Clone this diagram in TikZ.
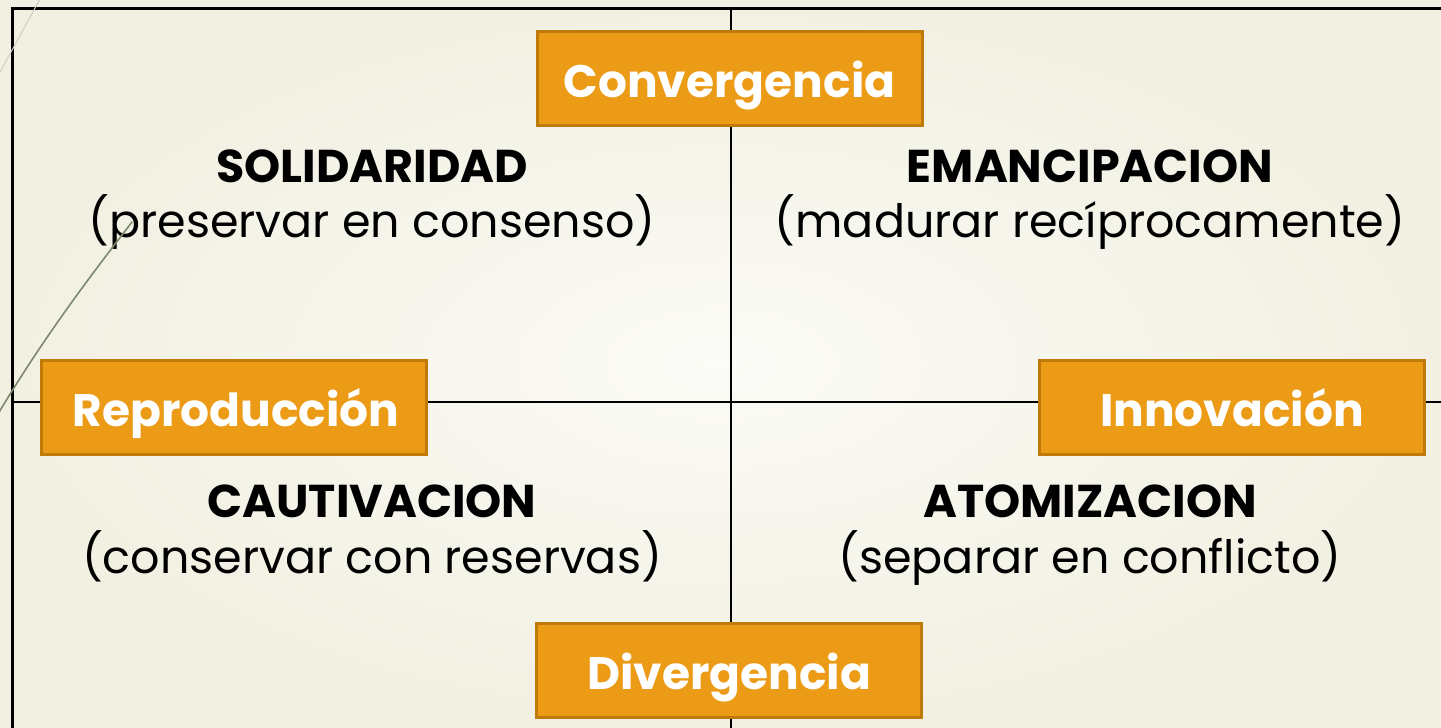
\documentclass[tikz,border=0pt]{standalone}
\usepackage{fontspec}
\setmainfont{Poppins}
\definecolor{bgin}{HTML}{FBFBF7}
\definecolor{bgout}{HTML}{F2F0E2}
\definecolor{boxfill}{HTML}{EC9B17}
\definecolor{boxline}{HTML}{C07A0A}
\definecolor{wisp}{HTML}{7C8A6C}
\definecolor{wispfaint}{HTML}{CFCFC2}
\tikzset{
  axisbox/.style={draw=boxline, line width=3pt, fill=boxfill, minimum width=385pt, minimum height=94pt, inner sep=0pt},
  boxlabel/.style={anchor=base, text=white, font=\fontsize{45.5}{52}\selectfont\bfseries, inner sep=0pt},
  qtitle/.style={anchor=base, font=\fontsize{46}{52}\selectfont\bfseries, inner sep=0pt},
  qsub/.style={anchor=base, font=\fontsize{46}{52}\selectfont, inner sep=0pt},
  frame/.style={draw=black, line width=3pt},
  divider/.style={draw=black, line width=2pt}
}
\begin{document}
\begin{tikzpicture}[x=1pt,y=-1pt]
\useasboundingbox (0,0) rectangle (1441,728);
\shade[inner color=bgin, outer color=bgout] (0,0) rectangle (1441,728);
% frame and dividers
\coordinate (ftl) at (12,8);
\coordinate (ftr) at (1445,8);
\coordinate (fbl) at (12,732);
\coordinate (vt) at (731,8);
\coordinate (vb) at (731,732);
\coordinate (hl) at (12,402);
\coordinate (hr) at (1445,402);
\draw[frame] (ftr) -- (ftl) -- (fbl);
\draw[divider] (vt) -- (vb);
\draw[divider] (hl) -- (hr);
% faint wisp at top
\coordinate (wa) at (40,-1);
\coordinate (wb) at (-1,74);
\draw[wispfaint, line width=1pt] (wa) -- (wb);
% boxes
\node[axisbox] (conv) at (729.5,78.5) {};
\node[boxlabel] (convt) at (729.5,97) {Convergencia};
\node[axisbox] (repr) at (234,407.5) {};
\node[boxlabel] (reprt) at (236,426) {Reproducción};
\node[axisbox] (inno) at (1232,407.5) {};
\node[boxlabel] (innot) at (1232,426) {Innovación};
\node[axisbox] (dive) at (729,670.5) {};
\node[boxlabel] (divet) at (729,689) {Divergencia};
% quadrant texts
\node[qtitle] (sol) at (372,182) {SOLIDARIDAD};
\node[qsub] (solsub) at (372,237) {(preservar en consenso)};
\node[qtitle] (ema) at (1090,182) {EMANCIPACION};
\node[qsub] (emasub) at (1090,237) {(madurar recíprocamente)};
\node[qtitle] (cau) at (372,517) {CAUTIVACION};
\node[qsub] (causub) at (372,573) {(conservar con reservas)};
\node[qtitle] (ato) at (1090,517) {ATOMIZACION};
\node[qsub] (atosub) at (1090,573) {(separar en conflicto)};
% green wisp
\coordinate (ga) at (132,222);
\coordinate (gb) at (-2,414);
\draw[wisp, line width=1.6pt, line cap=round] (ga) .. controls (95,270) and (45,335) .. (gb);
\end{tikzpicture}
\end{document}
